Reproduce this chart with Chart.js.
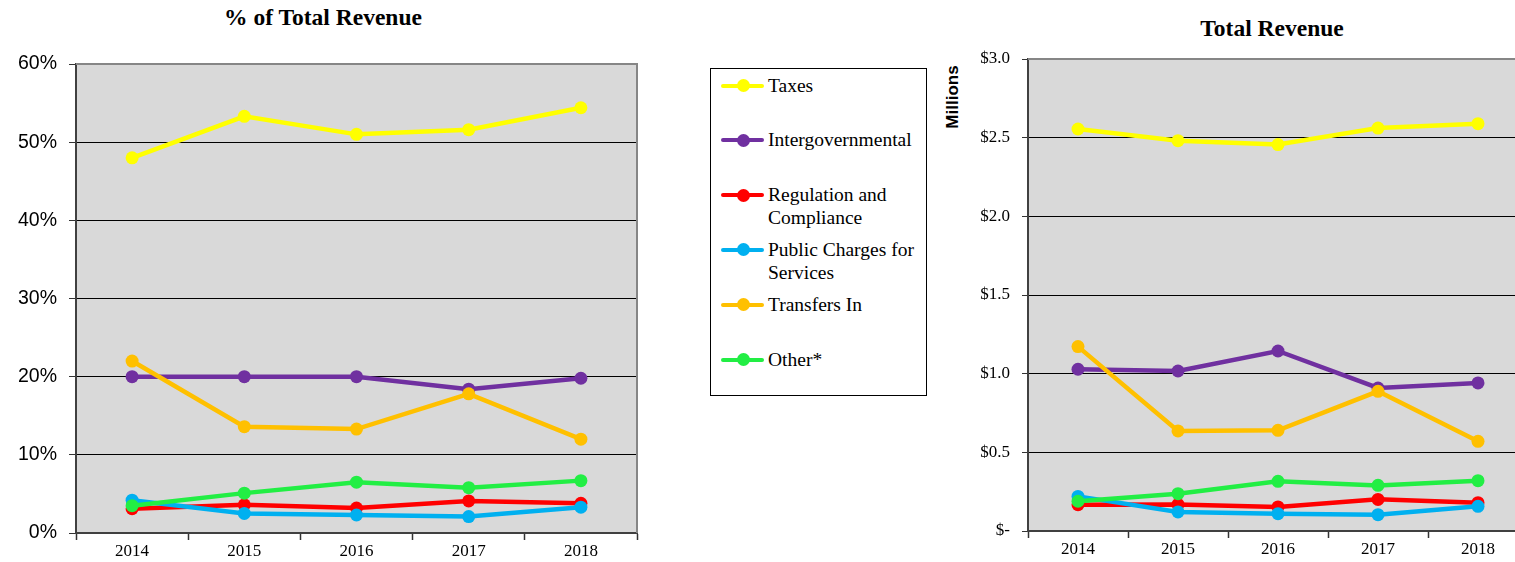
<!DOCTYPE html>
<html>
<head>
<meta charset="utf-8">
<script src="https://cdn.jsdelivr.net/npm/chart.js@4.4.1/dist/chart.umd.min.js"></script>
<style>
  html, body { margin: 0; padding: 0; width: 1515px; height: 562px; overflow: hidden; background: #fff; }
  .abs { position: absolute; }
  .title { font-family: 'Liberation Serif', 'Times New Roman', Times, serif; font-weight: bold; font-size: 23.5px; color: #000; text-align: center; white-space: nowrap; }
  #units { font-family: 'Liberation Sans', Arial, sans-serif; font-weight: bold; font-size: 17px; transform: rotate(-90deg); transform-origin: center center; white-space: nowrap; }
  #legend { left: 710px; top: 68px; width: 215px; height: 326px; border: 1px solid #000; background: #fff; }
  .item { position: absolute; left: 0; width: 215px; height: 55px; }
  .swatch { position: absolute; left: 10px; top: 10px; width: 43px; height: 4px; border-radius: 2px; }
  .dot { position: absolute; left: 26px; top: 5.5px; width: 13px; height: 13px; border-radius: 50%; }
  .label { position: absolute; left: 57px; top: 0; width: 158px; font-family: 'Liberation Serif', 'Times New Roman', Times, serif; font-size: 19.5px; line-height: 23px; color: #000; }
</style>
</head>
<body>
<div class="abs title" style="left:123px; top:4px; width:400px;">% of Total Revenue</div>
<div class="abs title" style="left:1072px; top:15px; width:400px;">Total Revenue</div>
<div class="abs" id="units" style="left:913px; top:87px; width:80px; text-align:center;">Millions</div>
<div class="abs" id="legend"></div>

<div class="abs" style="left:0; top:0; width:660px; height:562px;"><canvas id="pct"></canvas></div>
<div class="abs" style="left:930px; top:0; width:620px; height:562px;"><canvas id="amt"></canvas></div>

<script>
// Fiscal years
const years = ['2014', '2015', '2016', '2017', '2018'];

// Revenue sources
const seriesNames = ['Taxes', 'Intergovernmental', 'Regulation and Compliance', 'Public Charges for Services', 'Transfers In', 'Other*'];
const seriesColors = ['#FFFF00', '#7030A0', '#FF0000', '#00B0F0', '#FFC000', '#22EE44'];

// Share of total revenue (%)
const pctTaxes    = [48.0, 53.3, 51.0, 51.6, 54.4];
const pctInterGov = [20.0, 20.0, 20.0, 18.4, 19.8];
const pctRegComp  = [3.1, 3.6, 3.2, 4.1, 3.8];
const pctCharges  = [4.2, 2.5, 2.3, 2.1, 3.3];
const pctTransfer = [22.0, 13.6, 13.3, 17.8, 12.0];
const pctOther    = [3.5, 5.1, 6.5, 5.8, 6.7];

// Revenue amounts ($ millions)
const amtTaxes    = [2.555, 2.481, 2.456, 2.561, 2.589];
const amtInterGov = [1.028, 1.017, 1.144, 0.909, 0.941];
const amtRegComp  = [0.167, 0.169, 0.153, 0.201, 0.180];
const amtCharges  = [0.220, 0.121, 0.110, 0.104, 0.157];
const amtTransfer = [1.172, 0.636, 0.640, 0.888, 0.570];
const amtOther    = [0.189, 0.237, 0.316, 0.290, 0.320];

// Axis tick labels
const pctTickLabels = ['0%', '10%', '20%', '30%', '40%', '50%', '60%'];
const amtTickLabels = ['$-', '$0.5', '$1.0', '$1.5', '$2.0', '$2.5', '$3.0'];

const pctSeries = [pctTaxes, pctInterGov, pctRegComp, pctCharges, pctTransfer, pctOther];
const amtSeries = [amtTaxes, amtInterGov, amtRegComp, amtCharges, amtTransfer, amtOther];

const SERIF = "'Liberation Serif', 'Times New Roman', Times, serif";
const SANS = "'Liberation Sans', Arial, sans-serif";

// Legend
const legend = document.getElementById('legend');
seriesNames.forEach((name, i) => {
  const item = document.createElement('div');
  item.className = 'item';
  item.style.top = (4.5 + i * 54.8) + 'px';
  item.innerHTML = '<div class="swatch" style="background:' + seriesColors[i] + '"></div>' +
                   '<div class="dot" style="background:' + seriesColors[i] + '"></div>' +
                   '<div class="label"></div>';
  item.querySelector('.label').textContent = name;
  legend.appendChild(item);
});

// Grey plot background with a grey frame on the top and right edges
const plotFrame = {
  id: 'plotFrame',
  beforeDraw(chart) {
    const { ctx, chartArea: a } = chart;
    ctx.save();
    ctx.fillStyle = '#D9D9D9';
    ctx.fillRect(a.left, a.top, a.right - a.left, a.bottom - a.top);
    ctx.restore();
  },
  beforeDatasetsDraw(chart) {
    const { ctx, chartArea: a } = chart;
    ctx.save();
    ctx.strokeStyle = '#868686';
    ctx.lineWidth = 2;
    ctx.beginPath();
    ctx.moveTo(a.left, a.top);
    ctx.lineTo(a.right, a.top);
    ctx.lineTo(a.right, a.bottom);
    ctx.stroke();
    ctx.restore();
  }
};

function makeDatasets(series) {
  return series.map((data, i) => ({
    label: seriesNames[i],
    data: data,
    borderColor: seriesColors[i],
    backgroundColor: seriesColors[i],
    borderWidth: 4.5,
    pointRadius: 6.5,
    pointBorderWidth: 0,
    pointHoverRadius: 6.5,
    tension: 0,
    order: series.length - i
  }));
}

function makeChart(id, series, opts) {
  return new Chart(document.getElementById(id), {
    type: 'line',
    data: { labels: years, datasets: makeDatasets(series) },
    plugins: [plotFrame],
    options: {
      responsive: true,
      maintainAspectRatio: false,
      animation: false,
      events: [],
      layout: { padding: { top: opts.top, right: opts.right, left: 0, bottom: 0 } },
      plugins: { legend: { display: false }, title: { display: false }, tooltip: { enabled: false } },
      scales: {
        x: {
          offset: true,
          grid: { offset: true, drawOnChartArea: false, tickLength: 7, tickColor: '#333', tickWidth: 1.5 },
          border: { color: '#404040', width: 2 },
          ticks: { font: { family: SERIF, size: 17 }, color: '#000', padding: 1, maxRotation: 0 },
          afterFit(scale) { scale.height = opts.xHeight; }
        },
        y: {
          min: 0,
          max: opts.max,
          ticks: {
            stepSize: opts.step,
            font: opts.yFont,
            color: '#000',
            padding: opts.yPad,
            callback: (v, idx) => opts.tickLabels[idx]
          },
          grid: {
            color: ctx => (ctx.tick && (ctx.tick.value === 0 || ctx.tick.value === opts.max)) ? 'rgba(0,0,0,0)' : '#000',
            lineWidth: 1,
            tickLength: opts.yTick,
            tickColor: '#333'
          },
          border: { color: '#404040', width: 2 },
          afterFit(scale) { scale.width = opts.yWidth; }
        }
      }
    }
  });
}

makeChart('pct', pctSeries, {
  top: 64, right: 23, xHeight: 29, yWidth: 76, max: 60, step: 10,
  tickLabels: pctTickLabels, yFont: { family: SANS, size: 19.5 }, yPad: 12, yTick: 7
});

makeChart('amt', amtSeries, {
  top: 59, right: 22, xHeight: 31, yWidth: 98, max: 3, step: 0.5,
  tickLabels: amtTickLabels, yFont: { family: SERIF, size: 17 }, yPad: 12, yTick: 6
});
</script>
</body>
</html>
